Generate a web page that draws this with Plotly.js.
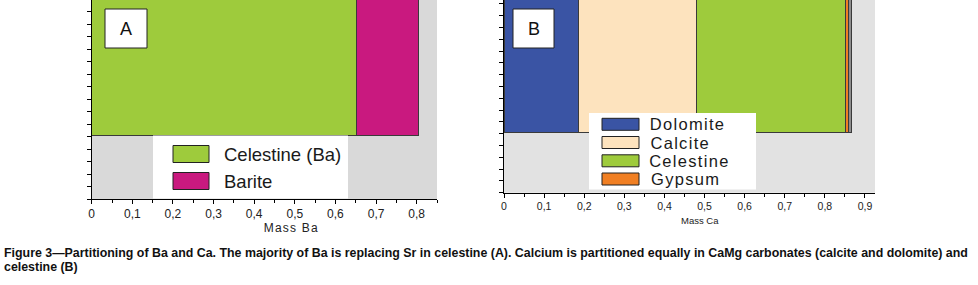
<!DOCTYPE html>
<html><head><meta charset="utf-8">
<script src="https://cdn.plot.ly/plotly-3.0.1.min.js"></script>
<style>
html,body{margin:0;padding:0;background:#fff;}
#chart{width:978px;height:285px;}
</style>
</head><body><div id="chart"></div>
<script>
// ---- data ----
const baMinerals = ["Celestine (Ba)", "Barite"];
const baMass = [0.653, 0.152];
const baColors = ["#9ecb3c", "#c9197f"];

const caMinerals = ["Dolomite", "Calcite", "Celestine", "Gypsum", "Other"];
const caMass = [0.185, 0.295, 0.371, 0.007, 0.009];
const caColors = ["#3a54a4", "#fde3be", "#9ecb3c", "#f07f23", "#8e8e8e"];
const caLegend = ["Dolomite", "Calcite", "Celestine", "Gypsum"];

const panelLabels = ["A", "B"];
const axisTitles = ["Mass Ba", "Mass Ca"];
const captionLines = [
  "Figure 3\u2014Partitioning of Ba and Ca. The majority of Ba is replacing Sr in celestine (A). Calcium is partitioned equally in CaMg carbonates (calcite and dolomite) and",
  "celestine (B)"
];

// ---- layout helpers (pixel -> paper) ----
const W = 978, H = 285;
const px = v => v / W;
const py = v => 1 - v / H;
const FONT = "Liberation Sans, Arial, sans-serif";

const traces = [];
baMinerals.forEach((m, i) => {
  traces.push({
    type: "bar", orientation: "h", name: m,
    x: [baMass[i]], y: [11.12], width: [12],
    xaxis: "x", yaxis: "y",
    marker: {color: baColors[i], line: {color: "#3a3a3a", width: 1}},
    showlegend: false, hoverinfo: "x+name"
  });
});
caMinerals.forEach((m, i) => {
  traces.push({
    type: "bar", orientation: "h", name: m,
    x: [caMass[i]], y: [11.08], width: [12],
    xaxis: "x2", yaxis: "y2",
    marker: {color: caColors[i], line: {color: "#3a3a3a", width: 1}},
    showlegend: false, hoverinfo: "x+name"
  });
});

function xAxis(domain, range, fs) {
  return {
    domain: domain, range: range, dtick: 0.1, tick0: 0,
    showline: true, linecolor: "#000", linewidth: 1,
    ticks: "outside", ticklen: 4, tickcolor: "#000", tickwidth: 1,
    minor: {dtick: 0.05, tick0: 0, ticks: "outside", ticklen: 3, tickcolor: "#000"},
    showgrid: false, zeroline: false,
    tickfont: {family: FONT, size: fs, color: "#222"},
    fixedrange: true
  };
}
function yAxis(domain, range, anchor) {
  return {
    domain: domain, range: range, dtick: 1, tick0: 0, anchor: anchor,
    showline: true, linecolor: "#000", linewidth: 1,
    ticks: "outside", ticklen: 4, tickcolor: "#000",
    showticklabels: false, showgrid: false, zeroline: false, fixedrange: true
  };
}

const shapes = [
  // panel backgrounds
  {type: "rect", xref: "x domain", yref: "y domain", x0: 0, x1: 1, y0: 0, y1: 1,
   fillcolor: "#d9d9d9", line: {width: 0}, layer: "below"},
  {type: "rect", xref: "x2 domain", yref: "y2 domain", x0: 0, x1: 1, y0: 0, y1: 1,
   fillcolor: "#e2e2e2", line: {width: 0}, layer: "below"},
  // legend boxes
  {type: "rect", xref: "paper", yref: "paper", x0: px(153), x1: px(348), y0: py(198.5), y1: py(135.5),
   fillcolor: "#fff", line: {width: 0}},
  {type: "rect", xref: "paper", yref: "paper", x0: px(589), x1: px(756), y0: py(189.5), y1: py(113),
   fillcolor: "#fff", line: {width: 0}},
  // panel label boxes
  {type: "rect", xref: "paper", yref: "paper", x0: px(105), x1: px(147), y0: py(48), y1: py(9),
   fillcolor: "#fff", line: {color: "#222", width: 1}},
  {type: "rect", xref: "paper", yref: "paper", x0: px(513), x1: px(554), y0: py(48), y1: py(9),
   fillcolor: "#fff", line: {color: "#222", width: 1}}
];
const annotations = [];

// legend A
const legA_rows = [154, 181];
baMinerals.forEach((m, i) => {
  shapes.push({type: "rect", xref: "paper", yref: "paper", x0: px(173), x1: px(209),
    y0: py(legA_rows[i] + 8.5), y1: py(legA_rows[i] - 8.5),
    fillcolor: baColors[i], line: {color: "#222", width: 1}});
  annotations.push({xref: "paper", yref: "paper", x: px(222), y: py(legA_rows[i]),
    xanchor: "left", yanchor: "middle", showarrow: false, text: m,
    font: {family: FONT, size: 18.5, color: "#1a1a1a"}});
});
// legend B
const legB_rows = [124.3, 142.5, 160.8, 179];
caLegend.forEach((m, i) => {
  shapes.push({type: "rect", xref: "paper", yref: "paper", x0: px(602), x1: px(639),
    y0: py(legB_rows[i] + 6), y1: py(legB_rows[i] - 6),
    fillcolor: caColors[caMinerals.indexOf(m)], line: {color: "#222", width: 1}});
  annotations.push({xref: "paper", yref: "paper", x: px(653), y: py(legB_rows[i]),
    xanchor: "left", yanchor: "middle", showarrow: false, text: m,
    font: {family: FONT, size: 16.5, color: "#1a1a1a"}});
});
// axis titles
annotations.push({xref: "paper", yref: "paper", x: px(266), y: py(227.5), xanchor: "left", yanchor: "middle",
  showarrow: false, text: axisTitles[0], font: {family: FONT, size: 12, color: "#222"}});
annotations.push({xref: "paper", yref: "paper", x: px(700), y: py(220), xanchor: "center", yanchor: "middle",
  showarrow: false, text: axisTitles[1], font: {family: FONT, size: 9.5, color: "#222"}});
// panel labels
annotations.push({xref: "paper", yref: "paper", x: px(126), y: py(29.5), xanchor: "center", yanchor: "middle",
  showarrow: false, text: panelLabels[0], font: {family: FONT, size: 18, color: "#111"}});
annotations.push({xref: "paper", yref: "paper", x: px(533.5), y: py(29.5), xanchor: "center", yanchor: "middle",
  showarrow: false, text: panelLabels[1], font: {family: FONT, size: 18, color: "#111"}});
// caption
annotations.push({xref: "paper", yref: "paper", x: px(2), y: py(253), xanchor: "left", yanchor: "middle",
  showarrow: false, text: "<b>" + captionLines[0] + "</b>",
  font: {family: FONT, size: 12.4, color: "#111"}});
annotations.push({xref: "paper", yref: "paper", x: px(2), y: py(267), xanchor: "left", yanchor: "middle",
  showarrow: false, text: "<b>" + captionLines[1] + "</b>",
  font: {family: FONT, size: 12.4, color: "#111"}});

const layout = {
  width: W, height: H,
  margin: {l: 0, r: 0, t: 0, b: 0, pad: 0},
  paper_bgcolor: "#fff", plot_bgcolor: "#fff",
  separators: ", ",
  barmode: "stack", bargap: 0,
  showlegend: false,
  xaxis: xAxis([px(91.7), px(437)], [0, 0.85], 12),
  yaxis: yAxis([py(199), 1], [0, 15.92], "x"),
  xaxis2: xAxis([px(504), px(875)], [0, 0.925], 10.5),
  yaxis2: yAxis([py(192.7), 1], [0, 16.33], "x2"),
  shapes: shapes,
  annotations: annotations
};
layout.xaxis.anchor = "y";
layout.xaxis2.anchor = "y2";

Plotly.newPlot("chart", traces, layout, {displayModeBar: false, staticPlot: true}).then(gd => {
  // spaced lettering of some texts, as in the reference
  gd.querySelectorAll(".annotation-text").forEach(t => {
    if (caLegend.indexOf(t.textContent) >= 0) t.style.letterSpacing = "1.3px";
    if (t.textContent === axisTitles[0]) t.style.letterSpacing = "1.2px";
  });
});
</script>
</body></html>
